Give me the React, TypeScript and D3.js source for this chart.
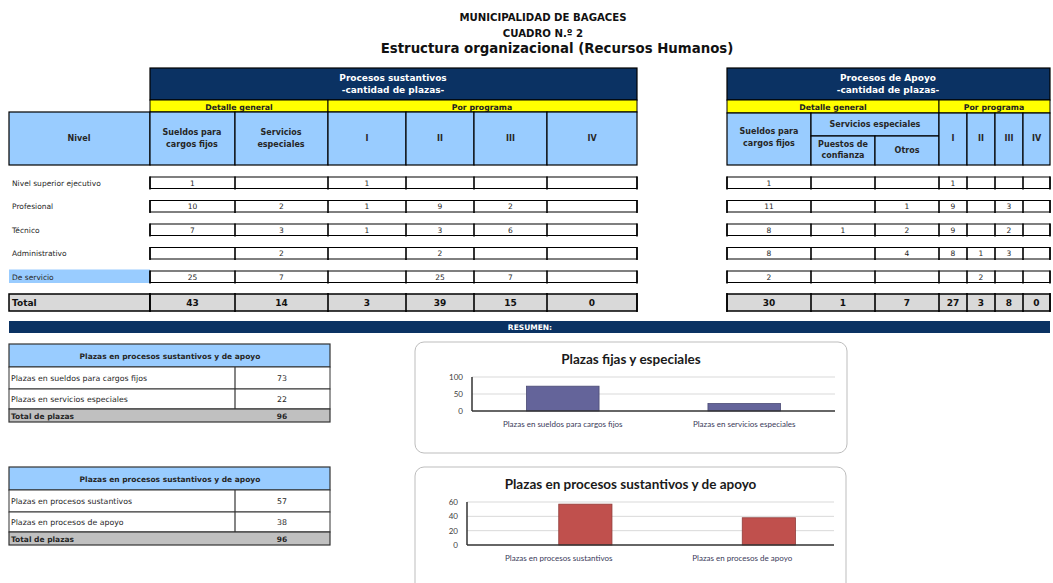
import React from "react";
import * as d3 from "d3";

// ---- datos ----
const niveles = ["Nivel superior ejecutivo", "Profesional", "Técnico", "Administrativo", "De servicio"];

// Procesos sustantivos
const sustSueldos = [1, 10, 7, null, 25];
const sustServicios = [null, 2, 3, 2, 7];
const sustProgI = [1, 1, 1, null, null];
const sustProgII = [null, 9, 3, 2, 25];
const sustProgIII = [null, 2, 6, null, 7];
const sustProgIV = [null, null, null, null, null];

// Procesos de apoyo
const apoyoSueldos = [1, 11, 8, 8, 2];
const apoyoPuestos = [null, null, 1, null, null];
const apoyoOtros = [null, 1, 2, 4, null];
const apoyoProgI = [1, 9, 9, 8, null];
const apoyoProgII = [null, null, null, 1, 2];
const apoyoProgIII = [null, 3, 2, 3, null];
const apoyoProgIV = [null, null, null, null, null];

const programas = ["I", "II", "III", "IV"];

// Resumen
const fijasCategorias = ["Plazas en sueldos para cargos fijos", "Plazas en servicios especiales"];
const fijasValores = [73, 22];
const procesosCategorias = ["Plazas en procesos sustantivos", "Plazas en procesos de apoyo"];
const procesosValores = [57, 38];
const totalPlazas = [96, 96];
const fijasTicks = [0, 50, 100];
const procesosTicks = [0, 20, 40, 60];

// ---- estilos ----
const NAVY = "#0b3263";
const LIGHTBLUE = "#99ccff";
const YELLOW = "#ffff00";
const GRAY = "#d9d9d9";
const FONT = "'DejaVu Sans', Verdana, sans-serif";
const CHARTFONT = "Lato, 'Open Sans', sans-serif";
const TXT = "#262626";

const sustCols = [sustSueldos, sustServicios, sustProgI, sustProgII, sustProgIII, sustProgIV];
const apoyoCols = [apoyoSueldos, apoyoPuestos, apoyoOtros, apoyoProgI, apoyoProgII, apoyoProgIII, apoyoProgIV];

const leftEdges = [150, 235, 328, 406, 474, 547, 637];
const rightEdges = [727, 811, 875, 939, 967, 995, 1023, 1050];

const rowY = d3.scalePoint<string>().domain(niveles).range([177, 271]);
const ROWH = 11.5;

const fmt = (v: number | null) => (v == null ? "" : String(v));

function DataRows({ edges, cols }: { edges: number[]; cols: (number | null)[][] }) {
  const x0 = edges[0];
  const x1 = edges[edges.length - 1];
  return (
    <g>
      {niveles.map((n, i) => {
        const y = rowY(n) as number;
        return (
          <g key={n}>
            <rect x={x0} y={y} width={x1 - x0} height={ROWH} fill="#fff" stroke="#000" strokeWidth={1} />
            {edges.map((e) => (
              <line key={e} x1={e} x2={e} y1={y - 0.5} y2={y + ROWH + 1} stroke="#000" strokeWidth={1.6} />
            ))}
            {cols.map((c, j) => (
              <text key={j} x={(edges[j] + edges[j + 1]) / 2} y={y + 8.5} textAnchor="middle" fontSize={7.5} fill={TXT}>
                {fmt(c[i])}
              </text>
            ))}
          </g>
        );
      })}
      {/* totales */}
      <rect x={x0} y={294} width={x1 - x0} height={17} fill={GRAY} stroke="#000" strokeWidth={1.5} />
      {edges.map((e) => (
        <line key={"t" + e} x1={e} x2={e} y1={293} y2={312} stroke="#000" strokeWidth={1.6} />
      ))}
      {cols.map((c, j) => (
        <text key={"tv" + j} x={(edges[j] + edges[j + 1]) / 2} y={306} textAnchor="middle" fontSize={9} fontWeight="bold" fill="#111">
          {d3.sum(c, (d) => d ?? 0)}
        </text>
      ))}
    </g>
  );
}

function BarChart(props: {
  card: [number, number, number, number];
  title: string;
  titleY: number;
  categories: string[];
  values: number[];
  ticks: number[];
  color: string;
  plot: [number, number, number, number]; // x0, x1, yTop, yBottom
  grouped: boolean;
  labelY: number;
}) {
  const { card, title, titleY, categories, values, ticks, color, plot, grouped, labelY } = props;
  const [px0, px1, pyTop, pyBottom] = plot;
  const x = d3
    .scaleBand<string>()
    .domain(categories)
    .range([px0, px1])
    .paddingInner(grouped ? 0.42 : 0.6)
    .paddingOuter(grouped ? 0.21 : 0.3);
  const y = d3.scaleLinear().domain([0, d3.max(ticks) as number]).range([pyBottom, pyTop]);
  // Excel clustered column with an empty first series
  const sub = d3.scaleBand<string>().domain(grouped ? ["vacía", "plazas"] : ["plazas"]).range([0, x.bandwidth()]);
  return (
    <g fontFamily={CHARTFONT}>
      <rect x={card[0]} y={card[1]} width={card[2]} height={card[3]} rx={9} fill="#fff" stroke="#bdbdbd" strokeWidth={1} />
      <text x={card[0] + card[2] / 2} y={titleY} textAnchor="middle" fontSize={13.5} fontWeight="bold" fill="#1a1a1a">
        {title}
      </text>
      {ticks.filter((t) => t > 0).map((t) => (
        <line key={t} x1={px0} x2={px1} y1={y(t)} y2={y(t)} stroke="#d9d9d9" strokeWidth={1} />
      ))}
      {ticks.map((t) => (
        <text key={"l" + t} x={px0 - 9} y={y(t) + 3} textAnchor="end" fontSize={8} fill="#404040">
          {t}
        </text>
      ))}
      {categories.map((c, i) => (
        <rect
          key={c}
          x={(x(c) as number) + (sub("plazas") as number)}
          y={y(values[i])}
          width={sub.bandwidth()}
          height={y(0) - y(values[i])}
          fill={color}
          stroke={d3.color(color)!.darker(0.8).toString()}
          strokeWidth={0.8}
        />
      ))}
      <line x1={px0} x2={px0} y1={pyTop} y2={pyBottom} stroke="#333" strokeWidth={1.5} />
      <line x1={px0} x2={px1} y1={pyBottom} y2={pyBottom} stroke="#333" strokeWidth={1.5} />
      {categories.map((c) => (
        <text key={"c" + c} x={(x(c) as number) + x.bandwidth() / 2} y={labelY} textAnchor="middle" fontSize={8} fill="#3a3a5a">
          {c}
        </text>
      ))}
    </g>
  );
}

function ResumenTable({ top, categories, values, total }: { top: number; categories: string[]; values: number[]; total: number }) {
  const rows = [top + 23, top + 45, top + 65, top + 78];
  return (
    <g>
      <rect x={9} y={top} width={321} height={23} fill={LIGHTBLUE} stroke="#333" strokeWidth={1.2} />
      <text x={170} y={top + 14.5} textAnchor="middle" fontSize={7.5} fontWeight="bold" fill={TXT}>
        Plazas en procesos sustantivos y de apoyo
      </text>
      {categories.map((c, i) => (
        <g key={c}>
          <rect x={9} y={rows[i]} width={321} height={rows[i + 1] - rows[i]} fill="#fff" stroke="#333" strokeWidth={1} />
          <line x1={235} x2={235} y1={rows[i]} y2={rows[i + 1]} stroke="#333" strokeWidth={1.2} />
          <text x={11} y={(rows[i] + rows[i + 1]) / 2 + 3} fontSize={7.8} fill={TXT}>
            {c}
          </text>
          <text x={282} y={(rows[i] + rows[i + 1]) / 2 + 3} textAnchor="middle" fontSize={7.8} fill={TXT}>
            {values[i]}
          </text>
        </g>
      ))}
      <rect x={9} y={rows[2]} width={321} height={rows[3] - rows[2]} fill="#c0c0c0" stroke="#333" strokeWidth={1.2} />
      <text x={11} y={rows[2] + 9.5} fontSize={7.5} fontWeight="bold" fill={TXT}>
        Total de plazas
      </text>
      <text x={282} y={rows[2] + 9.5} textAnchor="middle" fontSize={7.5} fontWeight="bold" fill={TXT}>
        {total}
      </text>
    </g>
  );
}

export default function App() {
  return (
    <svg
      width={1053}
      height={583}
      style={{ position: "absolute", left: 0, top: 0, background: "#fff" }}
      fontFamily={FONT}
    >
      {/* Títulos */}
      <g fontFamily="'DejaVu Sans Condensed', 'Liberation Sans Narrow', Arial, sans-serif" fontWeight="bold" textAnchor="middle" fill="#111">
        <text x={543} y={21} fontSize={11.3}>MUNICIPALIDAD DE BAGACES</text>
        <text x={543} y={37} fontSize={11.3}>CUADRO N.º 2</text>
        <text x={557} y={53} fontSize={14.8}>Estructura organizacional (Recursos Humanos)</text>
      </g>

      {/* ===== Procesos sustantivos: encabezado ===== */}
      <rect x={150} y={68} width={487} height={32} fill={NAVY} stroke="#000" strokeWidth={1.2} />
      <text x={393} y={81} textAnchor="middle" fontSize={9} fontWeight="bold" fill="#fff">Procesos sustantivos</text>
      <text x={393} y={93} textAnchor="middle" fontSize={9} fontWeight="bold" fill="#fff">-cantidad de plazas-</text>
      <rect x={150} y={100} width={178} height={12} fill={YELLOW} stroke="#000" strokeWidth={1} />
      <rect x={328} y={100} width={309} height={12} fill={YELLOW} stroke="#000" strokeWidth={1} />
      <text x={239} y={109.5} textAnchor="middle" fontSize={7.8} fontWeight="bold" fill="#222">Detalle general</text>
      <text x={482} y={109.5} textAnchor="middle" fontSize={7.8} fontWeight="bold" fill="#222">Por programa</text>
      <rect x={9} y={112} width={141} height={53} fill={LIGHTBLUE} stroke="#000" strokeWidth={1.2} />
      <text x={79} y={141} textAnchor="middle" fontSize={8} fontWeight="bold" fill={TXT}>Nivel</text>
      {leftEdges.slice(0, -1).map((e, j) => (
        <rect key={e} x={e} y={112} width={leftEdges[j + 1] - e} height={53} fill={LIGHTBLUE} stroke="#000" strokeWidth={1.2} />
      ))}
      <text x={192} y={135} textAnchor="middle" fontSize={8} fontWeight="bold" fill={TXT}>Sueldos para</text>
      <text x={192} y={147} textAnchor="middle" fontSize={8} fontWeight="bold" fill={TXT}>cargos fijos</text>
      <text x={281} y={135} textAnchor="middle" fontSize={8} fontWeight="bold" fill={TXT}>Servicios</text>
      <text x={281} y={147} textAnchor="middle" fontSize={8} fontWeight="bold" fill={TXT}>especiales</text>
      {programas.map((p, j) => (
        <text key={p} x={(leftEdges[j + 2] + leftEdges[j + 3]) / 2} y={141} textAnchor="middle" fontSize={8} fontWeight="bold" fill={TXT}>
          {p}
        </text>
      ))}

      {/* ===== Procesos de apoyo: encabezado ===== */}
      <rect x={727} y={68} width={323} height={32} fill={NAVY} stroke="#000" strokeWidth={1.2} />
      <text x={888} y={81} textAnchor="middle" fontSize={9} fontWeight="bold" fill="#fff">Procesos de Apoyo</text>
      <text x={888} y={93} textAnchor="middle" fontSize={9} fontWeight="bold" fill="#fff">-cantidad de plazas-</text>
      <rect x={727} y={100} width={212} height={13} fill={YELLOW} stroke="#000" strokeWidth={1} />
      <rect x={939} y={100} width={111} height={13} fill={YELLOW} stroke="#000" strokeWidth={1} />
      <text x={833} y={110} textAnchor="middle" fontSize={7.8} fontWeight="bold" fill="#222">Detalle general</text>
      <text x={994} y={110} textAnchor="middle" fontSize={7.8} fontWeight="bold" fill="#222">Por programa</text>
      <rect x={727} y={113} width={84} height={52} fill={LIGHTBLUE} stroke="#000" strokeWidth={1.2} />
      <rect x={811} y={113} width={128} height={23} fill={LIGHTBLUE} stroke="#000" strokeWidth={1.2} />
      <rect x={811} y={136} width={64} height={29} fill={LIGHTBLUE} stroke="#000" strokeWidth={1.2} />
      <rect x={875} y={136} width={64} height={29} fill={LIGHTBLUE} stroke="#000" strokeWidth={1.2} />
      {rightEdges.slice(3, -1).map((e, j) => (
        <rect key={e} x={e} y={113} width={rightEdges[j + 4] - e} height={52} fill={LIGHTBLUE} stroke="#000" strokeWidth={1.2} />
      ))}
      <text x={769} y={134} textAnchor="middle" fontSize={8} fontWeight="bold" fill={TXT}>Sueldos para</text>
      <text x={769} y={146} textAnchor="middle" fontSize={8} fontWeight="bold" fill={TXT}>cargos fijos</text>
      <text x={875} y={127} textAnchor="middle" fontSize={8} fontWeight="bold" fill={TXT}>Servicios especiales</text>
      <text x={843} y={147} textAnchor="middle" fontSize={8} fontWeight="bold" fill={TXT}>Puestos de</text>
      <text x={843} y={158} textAnchor="middle" fontSize={8} fontWeight="bold" fill={TXT}>confianza</text>
      <text x={907} y={153} textAnchor="middle" fontSize={8} fontWeight="bold" fill={TXT}>Otros</text>
      {programas.map((p, j) => (
        <text key={p} x={(rightEdges[j + 3] + rightEdges[j + 4]) / 2} y={141} textAnchor="middle" fontSize={8} fontWeight="bold" fill={TXT}>
          {p}
        </text>
      ))}

      {/* ===== filas ===== */}
      {niveles.map((n, i) => {
        const y = rowY(n) as number;
        return (
          <g key={n}>
            {i === niveles.length - 1 && <rect x={9} y={y - 1.5} width={141} height={ROWH + 2} fill={LIGHTBLUE} />}
            <text x={12} y={y + 8.5} fontSize={7.5} fill={TXT}>{n}</text>
          </g>
        );
      })}
      <rect x={9} y={294} width={141} height={17} fill={GRAY} stroke="#000" strokeWidth={1.5} />
      <text x={12} y={306} fontSize={9} fontWeight="bold" fill="#111">Total</text>
      <DataRows edges={leftEdges} cols={sustCols} />
      <DataRows edges={rightEdges} cols={apoyoCols} />

      {/* ===== Resumen ===== */}
      <rect x={9} y={321} width={1041} height={12} fill={NAVY} />
      <text x={530} y={330} textAnchor="middle" fontSize={7.5} fontWeight="bold" fill="#fff">RESUMEN:</text>

      <ResumenTable top={344} categories={fijasCategorias} values={fijasValores} total={totalPlazas[0]} />
      <ResumenTable top={467} categories={procesosCategorias} values={procesosValores} total={totalPlazas[1]} />

      <BarChart
        card={[415, 342, 432, 111]}
        title="Plazas fijas y especiales"
        titleY={364}
        categories={fijasCategorias}
        values={fijasValores}
        ticks={fijasTicks}
        color="#64649a"
        plot={[472, 835, 377, 411]}
        grouped={false}
        labelY={427}
      />
      <BarChart
        card={[415, 467, 431, 140]}
        title="Plazas en procesos sustantivos y de apoyo"
        titleY={489}
        categories={procesosCategorias}
        values={procesosValores}
        ticks={procesosTicks}
        color="#c0504d"
        plot={[467, 834, 502, 545]}
        grouped={true}
        labelY={561}
      />
    </svg>
  );
}
